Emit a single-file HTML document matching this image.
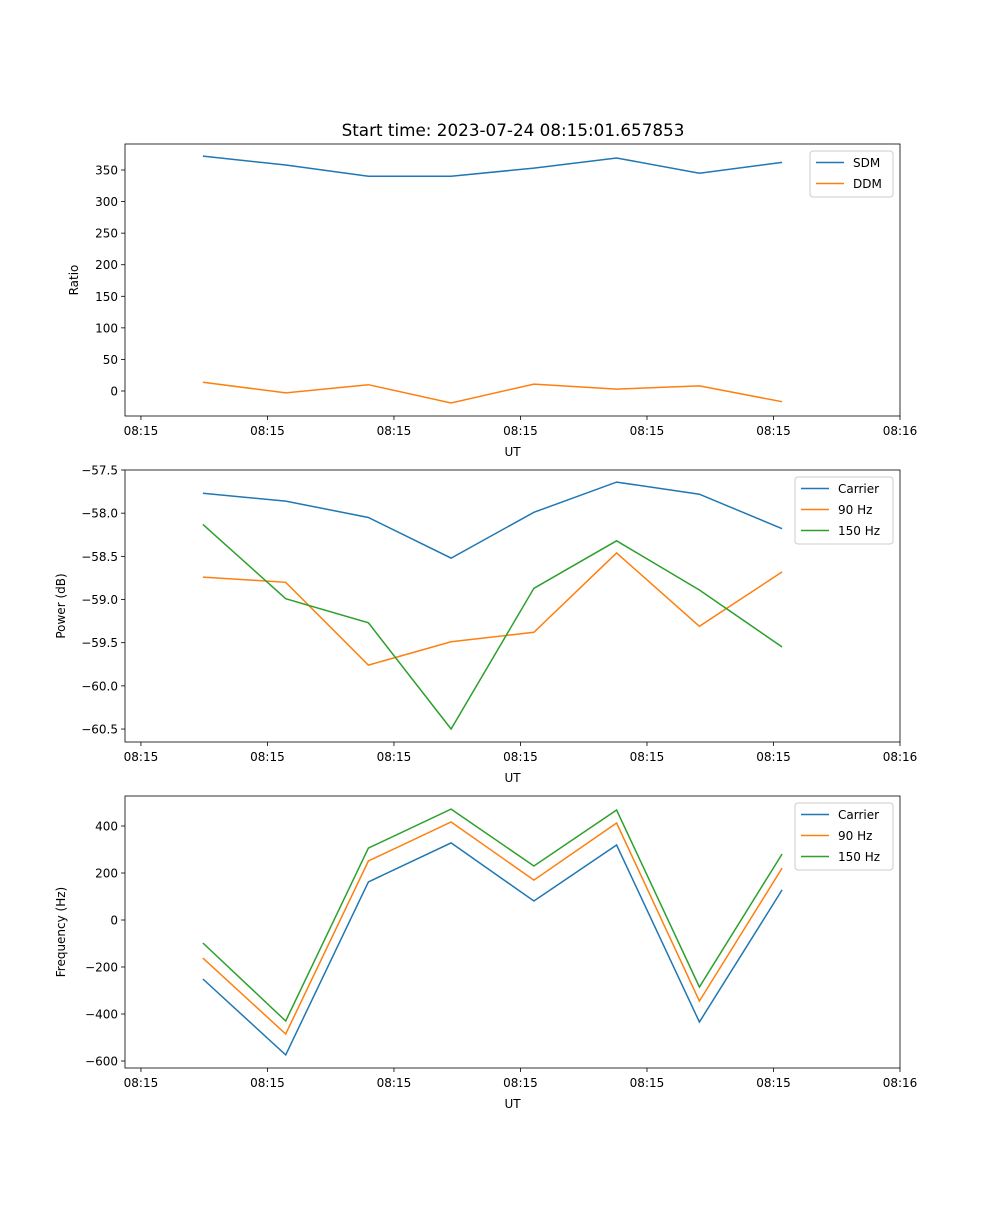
<!DOCTYPE html>
<html><head><meta charset="utf-8"><style>
body{margin:0;background:#fff}
svg{font-family:"DejaVu Sans","Liberation Sans",sans-serif}
</style></head><body>
<svg id="fig" width="1000" height="1200" viewBox="0 0 1000 1200">
<rect width="1000" height="1200" fill="#fff"/>
<text x="513" y="136" text-anchor="middle" font-size="16.8">Start time: 2023-07-24 08:15:01.657853</text>
</svg>
<script>
// time axis (seconds)
const times = [4.9, 11.44, 17.98, 24.52, 31.06, 37.6, 44.14, 50.68];
const xTicks = [0, 10, 20, 30, 40, 50, 60];
const xTickLabels = ["08:15","08:15","08:15","08:15","08:15","08:15","08:16"];
// panel 1
const sdm = [372, 358, 340, 340, 353, 369, 345, 362];
const ddm = [14, -3, 10, -19, 11, 3, 8, -17];
const ratioTicks = [0, 50, 100, 150, 200, 250, 300, 350];
// panel 2
const pCarrier = [-57.77, -57.86, -58.05, -58.52, -57.99, -57.64, -57.78, -58.18];
const p90 = [-58.74, -58.80, -59.76, -59.49, -59.38, -58.46, -59.31, -58.68];
const p150 = [-58.13, -58.99, -59.27, -60.50, -58.87, -58.32, -58.89, -59.55];
const powerTicks = [-57.5, -58.0, -58.5, -59.0, -59.5, -60.0, -60.5];
// panel 3
const fCarrier = [-251, -574, 162, 328, 81, 319, -434, 128];
const f90 = [-162, -485, 251, 417, 170, 413, -345, 221];
const f150 = [-98, -430, 306, 472, 230, 468, -285, 281];
const freqTicks = [-600, -400, -200, 0, 200, 400];

const NS = "http://www.w3.org/2000/svg";
const svg = document.getElementById("fig");
const L = 125, R = 900, XMIN = -1.26, XMAX = 60;
function xs(t){ return L + (t - XMIN) / (XMAX - XMIN) * (R - L); }
function mk(tag, attrs, parent){
  const e = document.createElementNS(NS, tag);
  for (const k in attrs) e.setAttribute(k, attrs[k]);
  (parent || svg).appendChild(e); return e;
}
function panel(id, top, bot, ymin, ymax, yTicks, fmt, ylabel, series, legend){
  const g = mk("g", {});
  
  
  const ys = v => bot - (v - ymin) / (ymax - ymin) * (bot - top);
  yTicks.forEach(v => {
    const y = ys(v);
    mk("line", {x1: L-4, x2: L, y1: y, y2: y, stroke: "#000", "stroke-width": 0.8}, g);
    const t = mk("text", {x: L-7, y: y+4.5, "text-anchor": "end", "font-size": 12}, g);
    t.textContent = fmt(v);
    
    
  });
  xTicks.forEach((v, i) => {
    const x = xs(v);
    mk("line", {x1: x, x2: x, y1: bot, y2: bot+4, stroke: "#000", "stroke-width": 0.8}, g);
    const t = mk("text", {x: x, y: bot+19, "text-anchor": "middle", "font-size": 12}, g);
    t.textContent = xTickLabels[i];
    
    
  });
  const xl = mk("text", {x: (L+R)/2, y: bot+40, "text-anchor": "middle", "font-size": 12}, g);
  xl.textContent = "UT";
  
  
  const yl = mk("text", {x: 0, y: 0, "text-anchor": "middle", "font-size": 12,
    transform: `translate(${L - (id === "ratio" ? 47 : 60)},${(top+bot)/2}) rotate(-90)`}, g);
  yl.textContent = ylabel;
  
  
  series.forEach(s => {
    const pts = s.data.map((v, i) => xs(times[i]).toFixed(1) + "," + ys(v).toFixed(1)).join(" ");
    const pl = mk("polyline", {points: pts, fill: "none", stroke: s.color, "stroke-width": 1.5}, g);
    
    
  });
  mk("rect", {x: L, y: top, width: R-L, height: bot-top, fill: "none", stroke: "#000", "stroke-width": 0.8}, g);
  // legend
  const lg = mk("g", {}, g);
  
  
  mk("rect", {x: legend.x, y: top+7, width: legend.w, height: 4 + 21*series.length, rx: 3,
    fill: "#fff", "fill-opacity": 0.8, stroke: "#ccc", "stroke-width": 1}, lg);
  series.forEach((s, i) => {
    const y = top + 18.5 + 21*i;
    mk("line", {x1: legend.x+6, x2: legend.x+34, y1: y, y2: y, stroke: s.color, "stroke-width": 1.5}, lg);
    const t = mk("text", {x: legend.x+43, y: y+4.5, "font-size": 12}, lg);
    t.textContent = s.label;
    
    
  });
}
const C1 = "#1f77b4", C2 = "#ff7f0e", C3 = "#2ca02c";
panel("ratio", 144, 416, -39.6, 391.2, ratioTicks, v => String(v), "Ratio",
  [{key:"sdm", label:"SDM", data:sdm, color:C1},{key:"ddm", label:"DDM", data:ddm, color:C2}], {x:810, w:83});
panel("power", 470, 742, -60.65, -57.5, powerTicks, v => v.toFixed(1).replace("-", "\u2212"), "Power (dB)",
  [{key:"carrier", label:"Carrier", data:pCarrier, color:C1},{key:"90hz", label:"90 Hz", data:p90, color:C2},{key:"150hz", label:"150 Hz", data:p150, color:C3}], {x:795, w:98});
panel("frequency", 796, 1068, -629.8, 527.7, freqTicks, v => String(v).replace("-", "\u2212"), "Frequency (Hz)",
  [{key:"carrier", label:"Carrier", data:fCarrier, color:C1},{key:"90hz", label:"90 Hz", data:f90, color:C2},{key:"150hz", label:"150 Hz", data:f150, color:C3}], {x:795, w:98});
</script>
</body></html>
